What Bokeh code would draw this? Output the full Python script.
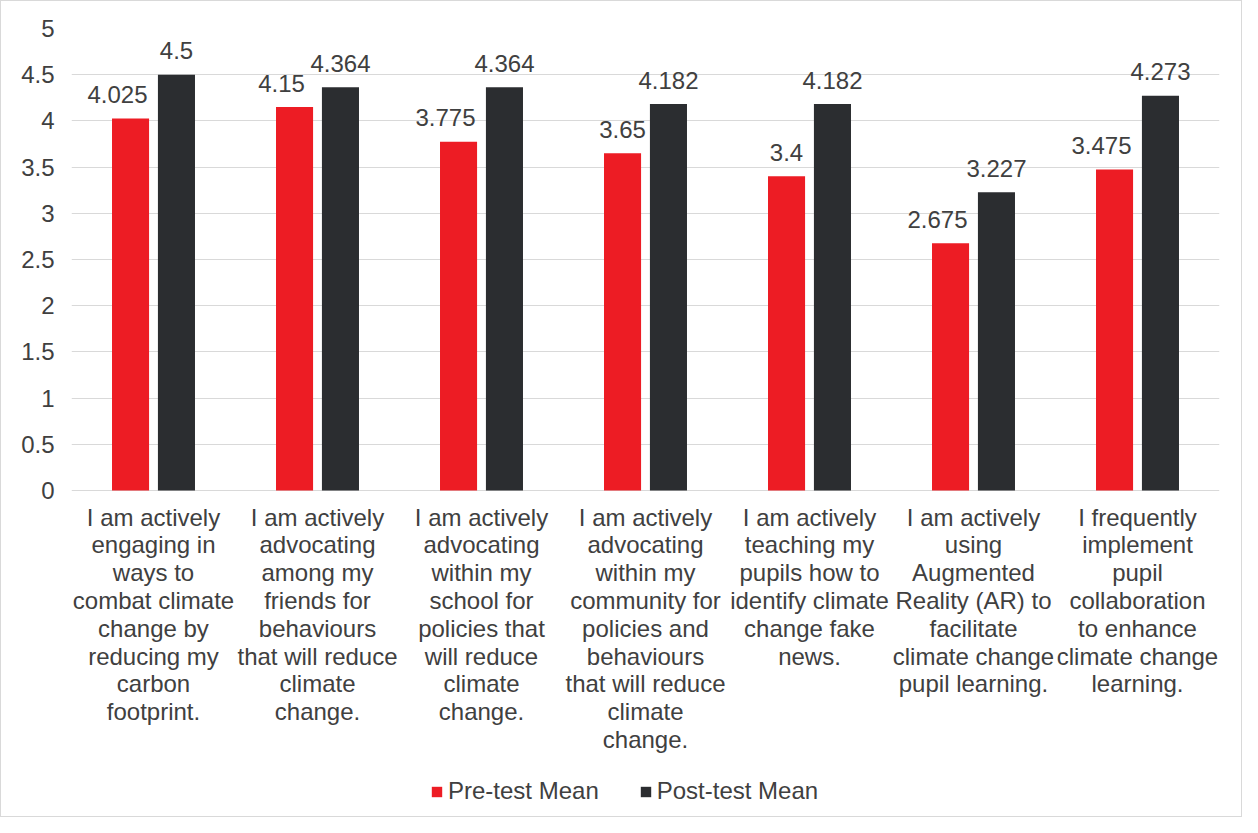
from bokeh.plotting import figure
from bokeh.models import ColumnDataSource, FactorRange, Range1d, Legend, LegendItem, FixedTicker
from bokeh.transform import dodge
from bokeh.core.properties import value
from bokeh.embed import file_html
from bokeh.resources import INLINE

# ---------------- data ----------------
categories = [
    "I am actively\nengaging in\nways to\ncombat climate\nchange by\nreducing my\ncarbon\nfootprint.",
    "I am actively\nadvocating\namong my\nfriends for\nbehaviours\nthat will reduce\nclimate\nchange.",
    "I am actively\nadvocating\nwithin my\nschool for\npolicies that\nwill reduce\nclimate\nchange.",
    "I am actively\nadvocating\nwithin my\ncommunity for\npolicies and\nbehaviours\nthat will reduce\nclimate\nchange.",
    "I am actively\nteaching my\npupils how to\nidentify climate\nchange fake\nnews.",
    "I am actively\nusing\nAugmented\nReality (AR) to\nfacilitate\nclimate change\npupil learning.",
    "I frequently\nimplement\npupil\ncollaboration\nto enhance\nclimate change\nlearning.",
]
pre_mean = [4.025, 4.15, 3.775, 3.65, 3.4, 2.675, 3.475]
post_mean = [4.5, 4.364, 4.364, 4.182, 4.182, 3.227, 4.273]
series_names = ["Pre-test Mean", "Post-test Mean"]
y_ticks = [0, 0.5, 1, 1.5, 2, 2.5, 3, 3.5, 4, 4.5, 5]

# ---------------- styling ----------------
RED = "#ED1C24"
DARK = "#2B2D30"
TEXT = "#404040"
GRID = "#D9D9D9"
FONT = "Liberation Sans"
FS = 24

W, H = 1242, 817
LEFT, RIGHT, TOP = 70, 24, 27
AXIS_Y = TOP + 462    # pixel row (in figure) of the value 0
BOTTOM = 2
OFF = 0.14            # dodge offset (category units)
BW = 0.226            # bar width (category units)

frame_w = W - LEFT - RIGHT
px_x = frame_w / len(categories)
px_y = (AXIS_Y - TOP) / (y_ticks[-1] - y_ticks[0])
frame_h = H - TOP - BOTTOM
y_min = y_ticks[-1] - frame_h / px_y     # extend below 0 to host category labels/legend


def text_width(s):
    return sum(FS * (0.278 if ch == "." else 0.556) for ch in s)


pre_lbl = [str(v) for v in pre_mean]
post_lbl = [str(v) for v in post_mean]

# shift a pre-test label left when it would collide with the post-test bar / label
pre_dx = []
for a, b, la, lb in zip(pre_mean, post_mean, pre_lbl, post_lbl):
    wa, wb = text_width(la), text_width(lb)
    right_a = -OFF * px_x + wa / 2
    dark_left = (OFF - BW / 2) * px_x
    left_b = OFF * px_x - wb / 2
    hit_bar = right_a > dark_left - 2
    hit_lbl = abs(b - a) * px_y < FS and right_a > left_b
    pre_dx.append(-13 if (hit_bar or hit_lbl) else 0)

src = ColumnDataSource(dict(cat=categories, pre=pre_mean, post=post_mean,
                            pre_lbl=pre_lbl, post_lbl=post_lbl, pre_dx=pre_dx,
                            base=[y_ticks[0]] * len(categories)))

p = figure(x_range=FactorRange(*categories), y_range=Range1d(y_min, y_ticks[-1]),
           width=W, height=H, output_backend="svg", toolbar_location=None,
           min_border_left=LEFT, min_border_right=RIGHT, min_border_top=TOP,
           min_border_bottom=BOTTOM)
p.styles = {"border": "1px solid #D9D9D9"}
p.outline_line_color = None
p.background_fill_color = "white"
p.border_fill_color = "white"

r_pre = p.vbar(x=dodge("cat", -OFF, range=p.x_range), top="pre", width=BW, source=src,
               fill_color=RED, line_color=None)
r_post = p.vbar(x=dodge("cat", OFF, range=p.x_range), top="post", width=BW, source=src,
                fill_color=DARK, line_color=None)

p.text(x=dodge("cat", -OFF, range=p.x_range), y="pre", text="pre_lbl", source=src,
       x_offset="pre_dx", y_offset=-24, text_align="center", text_baseline="alphabetic",
       text_font=value(FONT), text_font_size=f"{FS}px", text_color=TEXT)
p.text(x=dodge("cat", OFF, range=p.x_range), y="post", text="post_lbl", source=src,
       y_offset=-24, text_align="center", text_baseline="alphabetic",
       text_font=value(FONT), text_font_size=f"{FS}px", text_color=TEXT)

# category labels, hung under the value-0 baseline
p.text(x="cat", y="base", text="cat", source=src, y_offset=13,
       text_align="center", text_baseline="top", text_line_height=1.03,
       text_font=value(FONT), text_font_size=f"{FS}px", text_color=TEXT)

# axes
p.xaxis.visible = False
p.yaxis.ticker = FixedTicker(ticks=y_ticks)
p.yaxis.axis_line_color = None
p.yaxis.major_tick_line_color = None
p.yaxis.minor_tick_line_color = None
p.yaxis.major_tick_out = 0
p.yaxis.major_tick_in = 0
p.yaxis.major_label_standoff = 17
p.yaxis.major_label_text_font = FONT
p.yaxis.major_label_text_font_size = f"{FS}px"
p.yaxis.major_label_text_color = TEXT

p.xgrid.grid_line_color = None
p.ygrid.grid_line_color = GRID
p.ygrid.ticker = FixedTicker(ticks=y_ticks)

legend = Legend(items=[LegendItem(label=series_names[0], renderers=[r_pre]),
                       LegendItem(label=series_names[1], renderers=[r_post])],
                orientation="horizontal", location=(359, 11),
                glyph_width=13, glyph_height=13, label_standoff=5, spacing=40,
                border_line_color=None, background_fill_alpha=0,
                label_text_font=FONT, label_text_font_size=f"{FS}px",
                label_text_color=TEXT, padding=0, margin=0)
p.add_layout(legend, "center")

open("out.html", "w").write(file_html(p, INLINE))
